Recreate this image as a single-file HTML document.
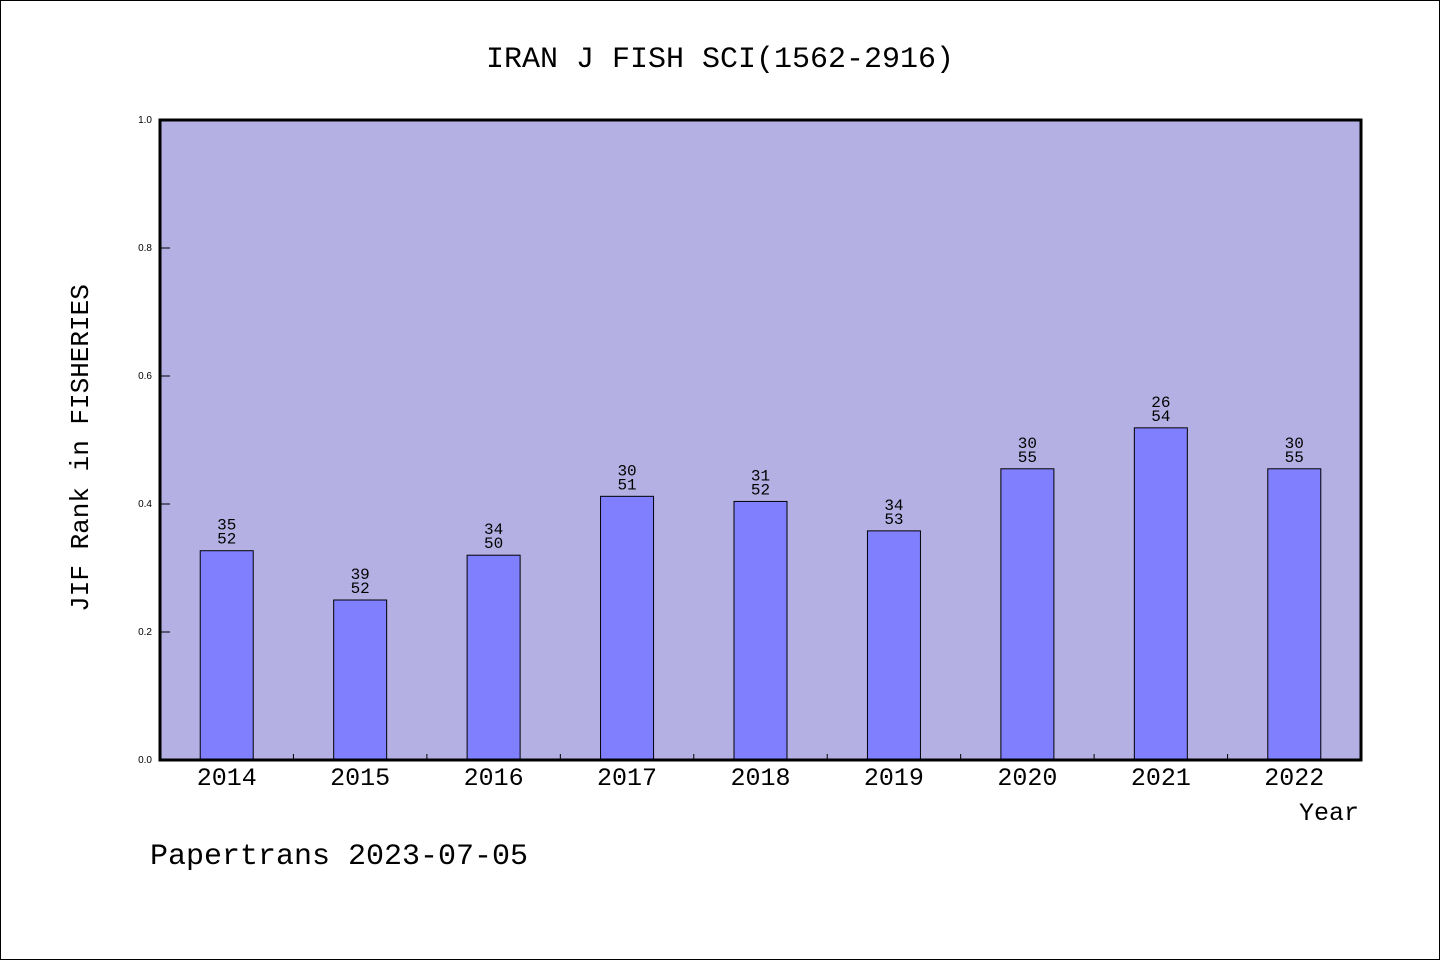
<!DOCTYPE html>
<html><head><meta charset="utf-8"><style>
body{margin:0;background:#fff}
svg{display:block;font-family:"Liberation Mono","DejaVu Sans Mono",monospace}
</style></head><body>
<svg id="c" width="1440" height="960">
<rect x="0.5" y="0.5" width="1439" height="959" fill="#fff" stroke="#000"/>
<text x="720" y="67" text-anchor="middle" font-size="30">IRAN J FISH SCI(1562-2916)</text>
<rect x="160" y="120" width="1201" height="640" fill="#b5b0e3"/>
<g id="bars"></g>
<g id="ticks"></g>
<rect x="160" y="120" width="1201" height="640" fill="none" stroke="#000" stroke-width="3"/>
<text transform="translate(88,448) rotate(-90)" text-anchor="middle" font-size="26">JIF Rank in FISHERIES</text>
<text x="1359" y="820" text-anchor="end" font-size="25">Year</text>
<text x="150" y="864" font-size="30">Papertrans 2023-07-05</text>
</svg>
<script>
const years=["2014","2015","2016","2017","2018","2019","2020","2021","2022"];
const values=[0.327,0.25,0.32,0.412,0.404,0.358,0.455,0.519,0.455];
const ranks=[35,39,34,30,31,34,30,26,30];
const totals=[52,52,50,51,52,53,55,54,55];
const yTicks=[0,0.2,0.4,0.6,0.8,1.0];
const NS="http://www.w3.org/2000/svg";
const x0=160,x1=1361,yb=760,yt=120;
const band=(x1-x0)/years.length;
const xc=i=>x0+band*(i+0.5);
const ys=v=>yb-(yb-yt)*v;
function mk(t,a,p){const e=document.createElementNS(NS,t);for(const k in a)e.setAttribute(k,a[k]);p.appendChild(e);return e;}
const bg=document.getElementById('bars'),tg=document.getElementById('ticks');
years.forEach((y,i)=>{
  const r=mk('rect',{x:xc(i)-26.5,y:ys(values[i]),width:53,height:yb-ys(values[i]),fill:'#8080ff',stroke:'#000','stroke-width':1},bg);
  
  
  const t1=mk('text',{x:xc(i),y:ys(values[i])-21,'text-anchor':'middle','font-size':16},bg);t1.textContent=ranks[i];
  
  
  const t2=mk('text',{x:xc(i),y:ys(values[i])-7,'text-anchor':'middle','font-size':16},bg);t2.textContent=totals[i];
  
  
  const xl=mk('text',{x:xc(i),y:785,'text-anchor':'middle','font-size':25},tg);xl.textContent=y;
  
  
  if(i>0){const l=mk('line',{x1:x0+band*i,x2:x0+band*i,y1:754,y2:760,stroke:'#000'},tg);
  
  }
});
yTicks.forEach(v=>{
  const l=mk('line',{x1:161,x2:170,y1:ys(v),y2:ys(v),stroke:'#000'},tg);
  
  
  const t=mk('text',{x:152,y:ys(v)+3,'text-anchor':'end','font-size':10,'font-family':'Liberation Sans, sans-serif'},tg);t.textContent=v.toFixed(1);
  
  
});
</script>
</body></html>
